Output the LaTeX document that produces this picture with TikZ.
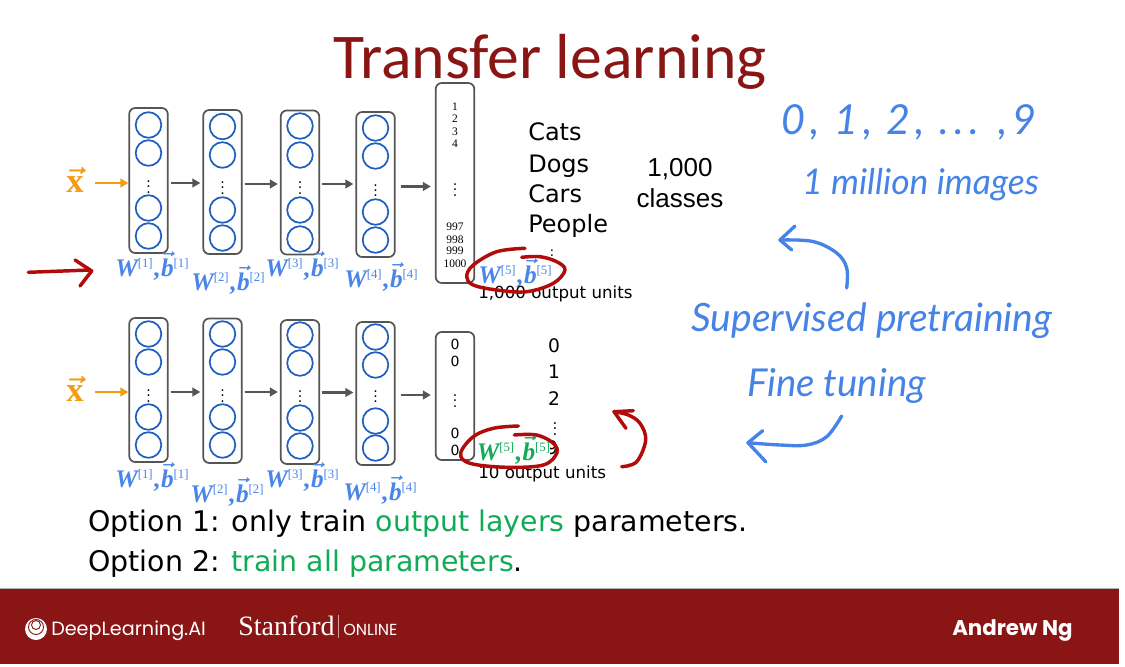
\documentclass[tikz,border=0pt]{standalone}
\usepackage{fontspec}
\setmainfont{DejaVu Sans}
\newfontfamily\titlefont{Carlito}
\newfontfamily\armo{Liberation Sans}
\newfontfamily\serifo{Liberation Serif}
\newfontfamily\handf{Lato}
\newfontfamily\handsp[LetterSpace=12]{Lato}
\newfontfamily\popf{Poppins}
\usetikzlibrary{arrows.meta,calc}
\definecolor{maroon}{HTML}{8A1515}
\definecolor{redink}{HTML}{B30A0A}
\definecolor{bluelab}{HTML}{4A86E8}
\definecolor{bluecirc}{HTML}{1F5FBF}
\definecolor{handblue}{HTML}{4683E6}
\definecolor{greenlab}{HTML}{12AB55}
\definecolor{orangeink}{HTML}{F39C12}
\definecolor{grayink}{HTML}{555555}
\newcommand{\fs}[1]{\fontsize{#1}{#1}\selectfont}
\newcommand{\arrowed}[1]{{\boldmath$\mathaccent"017E{\hbox{#1}}$}}
\newcommand{\wsup}[1]{\raisebox{6.5pt}{\fs{9.6}\serifo\mdseries\upshape[#1]}}
\newcommand{\wb}[1]{{\serifo\bfseries\itshape W}\wsup{#1}\kern0.5pt{\serifo\bfseries ,}\kern1pt\arrowed{\serifo\bfseries\itshape b}\wsup{#1}}
\tikzset{
  lbox/.style={draw=grayink,line width=1.3pt,rounded corners=4.5pt,minimum width=28.9pt,inner sep=0pt,fill=white},
  unit/.style={circle,draw=bluecirc,line width=1.3pt,minimum size=19.2pt,inner sep=0pt},
  vd/.style={inner sep=0pt,font=\fs{10.5}\boldmath},
  feed/.style={draw=grayink,line width=2pt,-{Triangle[length=6pt,width=6.5pt]}},
  inp/.style={draw=orangeink,line width=2pt,-{Triangle[length=6pt,width=6.5pt]}},
  wlab/.style={anchor=base west,inner sep=0pt,text=bluelab,font=\fs{19}},
  wgreen/.style={wlab,text=greenlab,fill=white},
  lab/.style={anchor=base west,inner sep=0pt},
  mid/.style={anchor=base,inner sep=0pt},
  redstroke/.style={draw=redink,line width=2.6pt,line cap=round,line join=round},
  bluestroke/.style={draw=handblue,line width=2.5pt,line cap=round,line join=round},
  hand/.style={anchor=base west,inner sep=0pt,text=handblue},
}
% name xc top bot c1 c2 c3 c4 dotsy
\newcommand{\lyr}[9]{%
  \node[lbox,minimum height={(#4-#3)*0.75pt}] (#1) at (#2,{(#3+#4)/2}) {};
  \node[unit] (#1a) at (#2,#5) {};
  \node[unit] (#1b) at (#2,#6) {};
  \node[unit] (#1c) at (#2,#7) {};
  \node[unit] (#1d) at (#2,#8) {};
  \node[vd] (#1v) at (#2,#9) {$\vdots$};
}
\begin{document}
\begin{tikzpicture}[x=0.75pt,y=-0.75pt]
\useasboundingbox (0,0) rectangle (1125,667);
\fill[white] (0,0) rectangle (1125,667);
% title
\node[anchor=base,inner sep=0pt,text=maroon,font=\titlefont\fs{47.8}] (title) at (550,79) {Transfer learning};
% top network
\lyr{ta}{148.5}{108}{253}{125}{153}{208}{236}{183}
\lyr{tb}{222.5}{110}{254}{126.5}{155}{210}{238}{184}
\lyr{tc}{300}{110.5}{254.5}{126}{155}{210}{239}{184}
\lyr{td}{375.5}{112}{257}{128}{156}{212}{240}{186.5}
\node[lbox,minimum height=150pt] (te) at (455,183) {};
\node[vd] (tev) at (455,186) {$\vdots$};
\foreach \n/\yy/\t in {p/107/1,q/119/2,r/132/3,s/144/4,u/227/997,v/240/998,w/251/999,z/264/1000}
  \node[inner sep=0pt,font=\serifo\fs{8.6}] (te\n) at (455,\yy) {\t};
\draw[feed] (ta.east |- tav) ++(2,0) -- ($(tb.west |- tav)+(-2,0)$);
\draw[feed] (tb.east |- tbv) ++(2,0) -- ($(tc.west |- tbv)+(-2,0)$);
\draw[feed] (tc.east |- tcv) ++(2,0) -- ($(td.west |- tcv)+(-2,0)$);
\draw[feed] (td.east |- tdv) ++(5,0) -- ($(te.west |- tdv)+(-4,0)$);
\node[inner sep=0pt,text=orangeink,font=\serifo\fs{26}] (tx) at (75,180) {\arrowed{\serifo\bfseries x}};
\draw[inp] (95,183) coordinate (txs) -- (ta.west |- tav);
\node[wlab] (tw1) at (115,276) {\wb{1}};
\node[wlab] (tw2) at (191,290) {\wb{2}};
\node[wlab] (tw3) at (265,276) {\wb{3}};
\node[wlab] (tw4) at (344,287) {\wb{4}};
\node[lab,font=\fs{18}] (cats) at (528,141) {Cats};
\node[lab,font=\fs{18}] (dogs) at (528,172) {Dogs};
\node[lab,font=\fs{18}] (cars) at (528,202) {Cars};
\node[lab,font=\fs{18}] (people) at (528,232) {People};
\node[vd,font=\fs{10}\boldmath] (cdots) at (552,252) {$\vdots$};
\node[wgreen,text=bluelab] (tw5) at (478,283) {\wb{5}};
\node[mid,font=\armo\fs{19.5}] (thou) at (680,176) {1,000};
\node[mid,font=\armo\fs{19.5}] (cls) at (680,207) {classes};
\node[lab,font=\fs{12.5}] (ou1) at (478,298) {1,000 output units};
% bottom network
\lyr{ba}{148.5}{318}{462}{334}{362}{417}{445}{392}
\lyr{bb}{222.5}{318.5}{463}{334}{362}{417}{445}{392}
\lyr{bc}{300}{320}{464}{335}{363}{418}{446}{392.5}
\lyr{bd}{375.5}{322}{465}{337}{365}{421}{448}{392.5}
\node[lbox,minimum height=96pt] (be) at (455,396) {};
\node[vd] (bev) at (455,397) {$\vdots$};
\foreach \n/\yy in {p/344,q/361,u/433,v/450}
  \node[inner sep=0pt,font=\fs{10.5}] (be\n) at (455,\yy) {0};
\draw[feed] (ba.east |- bav) ++(2,0) -- ($(bb.west |- bav)+(-2,0)$);
\draw[feed] (bb.east |- bbv) ++(2,0) -- ($(bc.west |- bbv)+(-2,0)$);
\draw[feed] (bc.east |- bcv) ++(2,0) -- ($(bd.west |- bcv)+(-2,0)$);
\draw[feed] (bd.east |- bdv) ++(5,2.5) -- ($(be.west |- bdv)+(-4,2.5)$);
\node[inner sep=0pt,text=orangeink,font=\serifo\fs{26}] (bx) at (75,389) {\arrowed{\serifo\bfseries x}};
\draw[inp] (95,392) coordinate (bxs) -- (ba.west |- bav);
\node[wlab] (bw1) at (115,487) {\wb{1}};
\node[wlab] (bw2) at (190,502) {\wb{2}};
\node[wlab] (bw3) at (265,487) {\wb{3}};
\node[wlab] (bw4) at (343,500) {\wb{4}};
\foreach \n/\yy/\t in {a/352/0,b/378/1,c/405/2}
  \node[mid,font=\fs{14}] (d\n) at (554,\yy) {\t};
\node[mid,font=\fs{14}] (de) at (552,454) {9};
\node[vd,font=\fs{11}\boldmath] (ddots) at (555,425) {$\vdots$};
\node[wgreen] (bw5) at (476.5,460) {\wb{5}};
\node[lab,font=\fs{12.5}] (ou2) at (478,478) {10 output units};
% options
\node[lab,font=\fs{21.3}] (opt1) at (88,531) {Option 1: only train \textcolor{greenlab}{output layers} parameters.};
\node[lab,font=\fs{21.3}] (opt2) at (88,571) {Option 2: \textcolor{greenlab}{train all parameters}.};
% red ink
\draw[redstroke] plot[smooth,tension=0.6] coordinates {(525,248.3)(496.7,251.7)(473.3,265)(466.7,276.7)(473.3,285)(496.7,290)(526.7,291.7)(553.3,283.3)(565,270)(556.7,261.7)(540,256.7)(521.7,257.3)};
\draw[redstroke] plot[smooth,tension=0.6] coordinates {(518.3,426)(493.3,428.3)(473.3,436.7)(460.7,453.3)(470,463.3)(506.7,467.3)(543.3,465)(556.7,453.3)(553.3,443.3)(536.7,435)(514.3,435)};
\draw[redstroke] plot[smooth,tension=0.6] coordinates {(621.7,466.7)(636.7,461.7)(645.7,440)(640,423.3)(628.3,415)(614,411.7)};
\draw[redstroke] (633.3,410.7) -- (614,411.7) -- (626,428.3);
\draw[redstroke] (28.3,272.3) -- (90,270);
\draw[redstroke] (75,260) -- (91.7,271) -- (80,286);
% handwriting
\node[hand,font=\handsp\itshape\fs{31}] (digs) at (781,135) {0, 1, 2, ... ,9};
\node[hand,font=\handf\itshape\fs{26.6}] (mil) at (802,194) {1 million images};
\node[hand,font=\handf\itshape\fs{29.3}] (sup) at (691,331) {Supervised pretraining};
\node[hand,font=\handf\itshape\fs{28.8}] (fine) at (747,396) {Fine tuning};
\draw[bluestroke] plot[smooth,tension=0.6] coordinates {(846.7,288)(846.7,268)(836.7,253)(813,241.5)(780,240)};
\draw[bluestroke] (795,226) -- (780,240) -- (791.7,250);
\draw[bluestroke] plot[smooth,tension=0.6] coordinates {(841.7,416)(826.7,436.7)(806.7,445)(780,445)(748,442.7)};
\draw[bluestroke] (762.7,430.7) -- (748,442.7) -- (766,462);
% footer
\fill[maroon] (0,589) rectangle (1119,664);
\draw[black!30,line width=0.8pt] (0,588.5) -- (1119,588.5);
\fill[white] (36,629) circle[radius=11];
\draw[maroon,line width=0.7pt] (36,627) circle[radius=7.5];
\draw[maroon,line width=0.7pt] (36,625) circle[radius=4.5];
\node[lab,text=white,font=\popf\fs{14.4}] (dl) at (51,635) {DeepLearning.AI};
\node[lab,text=white,font=\serifo\fs{21}] (stan) at (238,635) {Stanford};
\draw[white!60!maroon,line width=0.5pt] (338,615) -- (338,638);
\node[lab,text=white,font=\popf\fs{12}] (onl) at (343,635) {ONLINE};
\node[lab,text=white,font=\popf\bfseries\fs{16}] (ng) at (952,635) {Andrew Ng};
\end{tikzpicture}
\end{document}
